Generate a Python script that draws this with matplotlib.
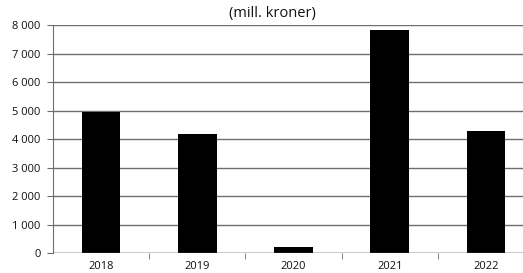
import matplotlib
matplotlib.use("Agg")
import matplotlib.pyplot as plt
from matplotlib.ticker import FuncFormatter, FixedLocator

years = ["2018", "2019", "2020", "2021", "2022"]
values = [4940, 4177, 212, 7813, 4293]
yticks = [0, 1000, 2000, 3000, 4000, 5000, 6000, 7000, 8000]

plt.rcParams['font.family'] = ['Open Sans', 'DejaVu Sans']

fig = plt.figure(figsize=(5.23, 2.73), dpi=100)
ax = fig.add_axes([53/523, (273-253.3)/273, 481/523, 228.3/273])

x = list(range(len(years)))
ax.bar(x, values, width=0.4, color='black', zorder=3)
ax.set_xlim(-0.5, len(years) - 0.5)
ax.set_ylim(0, 8000)
ax.set_yticks(yticks)
ax.yaxis.set_major_formatter(FuncFormatter(lambda v, p: f"{int(v):,}".replace(",", " ")))
ax.set_xticks(x)
ax.set_xticklabels(years)
ax.xaxis.set_minor_locator(FixedLocator([i + 0.5 for i in range(len(years) - 1)]))

ax.grid(axis='y', color='#6e6e6e', linewidth=1.0, zorder=0)
for s in ['top', 'right', 'bottom']:
    ax.spines[s].set_visible(False)
ax.spines['left'].set_color('#6e6e6e')
ax.axhline(0, color='#6e6e6e', linewidth=1.0, zorder=4)

ax.tick_params(axis='y', which='major', length=4, color='#6e6e6e', labelsize=8, pad=5,
               labelcolor='#111111')
ax.tick_params(axis='x', which='major', length=0, labelsize=8, pad=5.5, labelcolor='#111111')
ax.tick_params(axis='x', which='minor', length=4, color='#6e6e6e', direction='out')

fig.text(272/523, 1 - 14/273, "(mill. kroner)", ha='center', va='center', fontsize=10.5,
         color='#111111')

fig.savefig("out.png", dpi=100)
